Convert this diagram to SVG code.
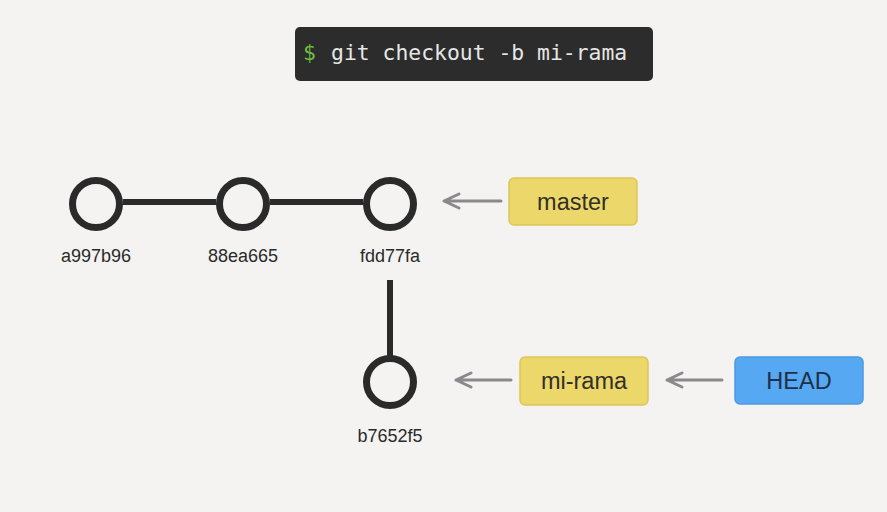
<svg xmlns="http://www.w3.org/2000/svg" width="887" height="512" viewBox="0 0 887 512">
  <defs>
    <style>
      .commit { fill: none; stroke: #2b2a2a; stroke-width: 7; }
      .edge { stroke: #2b2a2a; stroke-width: 6; fill: none; }
      .hash { font-family: "Liberation Sans", Arial, sans-serif; font-size: 18px; fill: #2a2a2a; text-anchor: middle; }
      .ref { font-family: "Liberation Sans", Arial, sans-serif; font-size: 23.5px; fill: #333027; text-anchor: middle; }
      .branch { fill: #ecd76b; stroke: #dcc65a; stroke-width: 1.5; }
      .head { fill: #56a8f3; stroke: #4b99e2; stroke-width: 1.5; }
      .ptr { stroke: #8a8a8c; stroke-width: 3; fill: none; stroke-linecap: round; stroke-linejoin: round; }
      .term { font-family: "DejaVu Sans Mono", "Liberation Mono", monospace; font-size: 21.4px; }
    </style>
  </defs>
  <rect width="887" height="512" fill="#f4f3f2"/>

  <g id="terminal">
    <rect x="295" y="27" width="358" height="54" rx="5" fill="#2c2c2c"/>
    <text class="term" x="303" y="60" fill="#6cc03c">$</text>
    <text class="term" x="331" y="60" fill="#e6e6e6">git checkout -b mi-rama</text>
  </g>

  <g id="connectors">
    <line class="edge" x1="123" y1="202" x2="216" y2="202"/>
    <line class="edge" x1="270" y1="202" x2="363" y2="202"/>
    <line class="edge" x1="390" y1="280" x2="390" y2="356"/>
    <path class="ptr" d="M501 201 H444 M459 194 L444 201 L459 208"/>
    <path class="ptr" d="M511 380 H456 M471 373 L456 380 L471 387"/>
    <path class="ptr" d="M722 380 H667 M682 373 L667 380 L682 387"/>
  </g>

  <g id="commit-a997b96">
    <circle class="commit" cx="96" cy="204" r="23.5"/>
    <text class="hash" x="96" y="262">a997b96</text>
  </g>
  <g id="commit-88ea665">
    <circle class="commit" cx="243" cy="204" r="23.5"/>
    <text class="hash" x="243" y="262">88ea665</text>
  </g>
  <g id="commit-fdd77fa">
    <circle class="commit" cx="390" cy="204" r="23.5"/>
    <text class="hash" x="390" y="262">fdd77fa</text>
  </g>
  <g id="commit-b7652f5">
    <circle class="commit" cx="390" cy="382" r="23.5"/>
    <text class="hash" x="390" y="442">b7652f5</text>
  </g>

  <g id="branch-master">
    <rect class="branch" x="509" y="178" width="128" height="47" rx="5"/>
    <text class="ref" x="573" y="210">master</text>
  </g>
  <g id="branch-mi-rama">
    <rect class="branch" x="520" y="357" width="128" height="48" rx="5"/>
    <text class="ref" x="584" y="389">mi-rama</text>
  </g>
  <g id="head">
    <rect class="head" x="735" y="357" width="128" height="47" rx="5"/>
    <text class="ref" x="799" y="389" style="fill:#1f3148">HEAD</text>
  </g>
</svg>
